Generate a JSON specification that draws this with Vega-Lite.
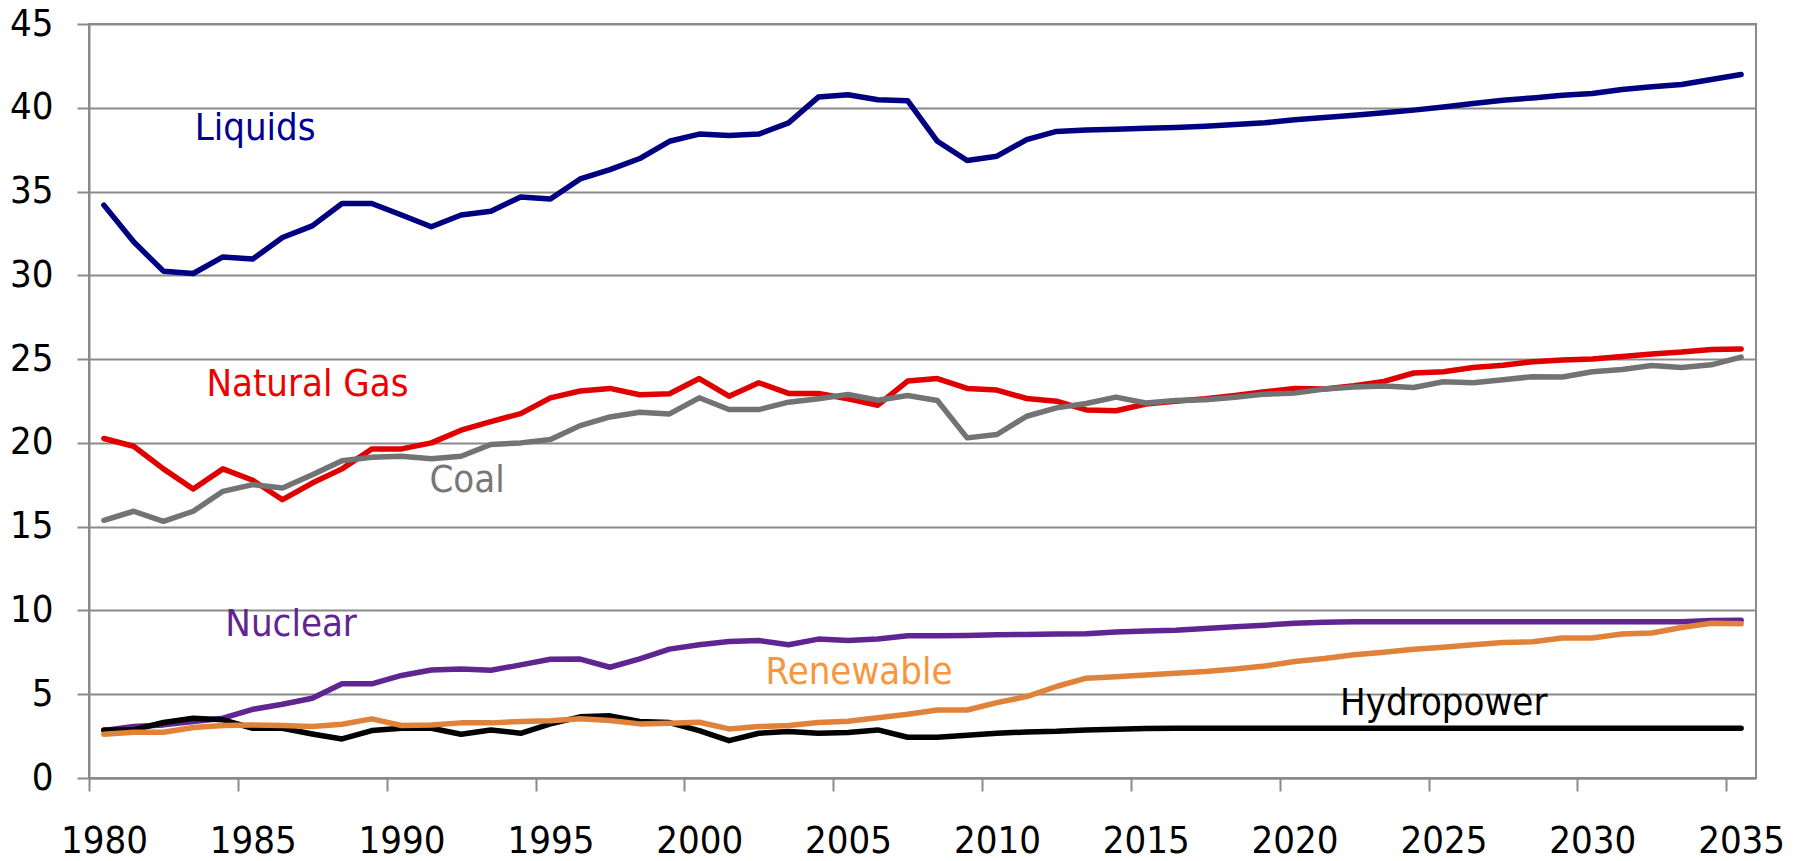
{
"$schema": "https://vega.github.io/schema/vega-lite/v6.json",
"width": 1667, "height": 754,
"autosize": {"type": "none"},
"padding": {"left": 89, "top": 24, "right": 41, "bottom": 83},
"background": "white",
"view": {"stroke": "#8a8a8a", "strokeWidth": 2},
"config": {"font": "Liberation Sans Narrow, Arial Narrow, DejaVu Sans Condensed, sans-serif"},
"datasets": {
"series": [
{"series":"Liquids","year":1980,"value":34.19},{"series":"Liquids","year":1981,"value":32.0},{"series":"Liquids","year":1982,"value":30.25},{"series":"Liquids","year":1983,"value":30.11},{"series":"Liquids","year":1984,"value":31.1},{"series":"Liquids","year":1985,"value":30.97},{"series":"Liquids","year":1986,"value":32.26},{"series":"Liquids","year":1987,"value":32.95},{"series":"Liquids","year":1988,"value":34.29},{"series":"Liquids","year":1989,"value":34.29},{"series":"Liquids","year":1990,"value":33.6},{"series":"Liquids","year":1991,"value":32.9},{"series":"Liquids","year":1992,"value":33.6},{"series":"Liquids","year":1993,"value":33.83},{"series":"Liquids","year":1994,"value":34.68},{"series":"Liquids","year":1995,"value":34.55},{"series":"Liquids","year":1996,"value":35.75},{"series":"Liquids","year":1997,"value":36.31},{"series":"Liquids","year":1998,"value":36.97},{"series":"Liquids","year":1999,"value":38.0},{"series":"Liquids","year":2000,"value":38.43},{"series":"Liquids","year":2001,"value":38.35},{"series":"Liquids","year":2002,"value":38.43},{"series":"Liquids","year":2003,"value":39.1},{"series":"Liquids","year":2004,"value":40.64},{"series":"Liquids","year":2005,"value":40.78},{"series":"Liquids","year":2006,"value":40.48},{"series":"Liquids","year":2007,"value":40.42},{"series":"Liquids","year":2008,"value":38.0},{"series":"Liquids","year":2009,"value":36.85},{"series":"Liquids","year":2010,"value":37.11},{"series":"Liquids","year":2011,"value":38.1},{"series":"Liquids","year":2012,"value":38.59},{"series":"Liquids","year":2013,"value":38.67},{"series":"Liquids","year":2014,"value":38.72},{"series":"Liquids","year":2015,"value":38.78},{"series":"Liquids","year":2016,"value":38.83},{"series":"Liquids","year":2017,"value":38.9},{"series":"Liquids","year":2018,"value":39.0},{"series":"Liquids","year":2019,"value":39.1},{"series":"Liquids","year":2020,"value":39.28},{"series":"Liquids","year":2021,"value":39.42},{"series":"Liquids","year":2022,"value":39.56},{"series":"Liquids","year":2023,"value":39.7},{"series":"Liquids","year":2024,"value":39.86},{"series":"Liquids","year":2025,"value":40.05},{"series":"Liquids","year":2026,"value":40.26},{"series":"Liquids","year":2027,"value":40.45},{"series":"Liquids","year":2028,"value":40.59},{"series":"Liquids","year":2029,"value":40.75},{"series":"Liquids","year":2030,"value":40.85},{"series":"Liquids","year":2031,"value":41.09},{"series":"Liquids","year":2032,"value":41.25},{"series":"Liquids","year":2033,"value":41.39},{"series":"Liquids","year":2034,"value":41.69},{"series":"Liquids","year":2035,"value":41.99},
{"series":"Natural Gas","year":1980,"value":20.26},{"series":"Natural Gas","year":1981,"value":19.8},{"series":"Natural Gas","year":1982,"value":18.45},{"series":"Natural Gas","year":1983,"value":17.25},{"series":"Natural Gas","year":1984,"value":18.45},{"series":"Natural Gas","year":1985,"value":17.77},{"series":"Natural Gas","year":1986,"value":16.61},{"series":"Natural Gas","year":1987,"value":17.6},{"series":"Natural Gas","year":1988,"value":18.45},{"series":"Natural Gas","year":1989,"value":19.64},{"series":"Natural Gas","year":1990,"value":19.64},{"series":"Natural Gas","year":1991,"value":20.0},{"series":"Natural Gas","year":1992,"value":20.76},{"series":"Natural Gas","year":1993,"value":21.27},{"series":"Natural Gas","year":1994,"value":21.75},{"series":"Natural Gas","year":1995,"value":22.69},{"series":"Natural Gas","year":1996,"value":23.1},{"series":"Natural Gas","year":1997,"value":23.25},{"series":"Natural Gas","year":1998,"value":22.87},{"series":"Natural Gas","year":1999,"value":22.93},{"series":"Natural Gas","year":2000,"value":23.84},{"series":"Natural Gas","year":2001,"value":22.79},{"series":"Natural Gas","year":2002,"value":23.59},{"series":"Natural Gas","year":2003,"value":22.95},{"series":"Natural Gas","year":2004,"value":22.95},{"series":"Natural Gas","year":2005,"value":22.63},{"series":"Natural Gas","year":2006,"value":22.25},{"series":"Natural Gas","year":2007,"value":23.69},{"series":"Natural Gas","year":2008,"value":23.84},{"series":"Natural Gas","year":2009,"value":23.25},{"series":"Natural Gas","year":2010,"value":23.15},{"series":"Natural Gas","year":2011,"value":22.65},{"series":"Natural Gas","year":2012,"value":22.49},{"series":"Natural Gas","year":2013,"value":21.97},{"series":"Natural Gas","year":2014,"value":21.92},{"series":"Natural Gas","year":2015,"value":22.32},{"series":"Natural Gas","year":2016,"value":22.48},{"series":"Natural Gas","year":2017,"value":22.63},{"series":"Natural Gas","year":2018,"value":22.83},{"series":"Natural Gas","year":2019,"value":23.05},{"series":"Natural Gas","year":2020,"value":23.25},{"series":"Natural Gas","year":2021,"value":23.21},{"series":"Natural Gas","year":2022,"value":23.41},{"series":"Natural Gas","year":2023,"value":23.67},{"series":"Natural Gas","year":2024,"value":24.17},{"series":"Natural Gas","year":2025,"value":24.24},{"series":"Natural Gas","year":2026,"value":24.5},{"series":"Natural Gas","year":2027,"value":24.64},{"series":"Natural Gas","year":2028,"value":24.84},{"series":"Natural Gas","year":2029,"value":24.94},{"series":"Natural Gas","year":2030,"value":25.0},{"series":"Natural Gas","year":2031,"value":25.16},{"series":"Natural Gas","year":2032,"value":25.3},{"series":"Natural Gas","year":2033,"value":25.42},{"series":"Natural Gas","year":2034,"value":25.58},{"series":"Natural Gas","year":2035,"value":25.6},
{"series":"Coal","year":1980,"value":15.38},{"series":"Coal","year":1981,"value":15.92},{"series":"Coal","year":1982,"value":15.32},{"series":"Coal","year":1983,"value":15.92},{"series":"Coal","year":1984,"value":17.11},{"series":"Coal","year":1985,"value":17.51},{"series":"Coal","year":1986,"value":17.31},{"series":"Coal","year":1987,"value":18.1},{"series":"Coal","year":1988,"value":18.94},{"series":"Coal","year":1989,"value":19.14},{"series":"Coal","year":1990,"value":19.2},{"series":"Coal","year":1991,"value":19.06},{"series":"Coal","year":1992,"value":19.2},{"series":"Coal","year":1993,"value":19.9},{"series":"Coal","year":1994,"value":20.0},{"series":"Coal","year":1995,"value":20.2},{"series":"Coal","year":1996,"value":21.03},{"series":"Coal","year":1997,"value":21.55},{"series":"Coal","year":1998,"value":21.83},{"series":"Coal","year":1999,"value":21.73},{"series":"Coal","year":2000,"value":22.69},{"series":"Coal","year":2001,"value":21.99},{"series":"Coal","year":2002,"value":21.99},{"series":"Coal","year":2003,"value":22.43},{"series":"Coal","year":2004,"value":22.63},{"series":"Coal","year":2005,"value":22.89},{"series":"Coal","year":2006,"value":22.55},{"series":"Coal","year":2007,"value":22.83},{"series":"Coal","year":2008,"value":22.53},{"series":"Coal","year":2009,"value":20.3},{"series":"Coal","year":2010,"value":20.5},{"series":"Coal","year":2011,"value":21.59},{"series":"Coal","year":2012,"value":22.09},{"series":"Coal","year":2013,"value":22.35},{"series":"Coal","year":2014,"value":22.73},{"series":"Coal","year":2015,"value":22.38},{"series":"Coal","year":2016,"value":22.53},{"series":"Coal","year":2017,"value":22.57},{"series":"Coal","year":2018,"value":22.73},{"series":"Coal","year":2019,"value":22.91},{"series":"Coal","year":2020,"value":22.97},{"series":"Coal","year":2021,"value":23.21},{"series":"Coal","year":2022,"value":23.33},{"series":"Coal","year":2023,"value":23.39},{"series":"Coal","year":2024,"value":23.31},{"series":"Coal","year":2025,"value":23.65},{"series":"Coal","year":2026,"value":23.59},{"series":"Coal","year":2027,"value":23.77},{"series":"Coal","year":2028,"value":23.95},{"series":"Coal","year":2029,"value":23.93},{"series":"Coal","year":2030,"value":24.25},{"series":"Coal","year":2031,"value":24.38},{"series":"Coal","year":2032,"value":24.62},{"series":"Coal","year":2033,"value":24.5},{"series":"Coal","year":2034,"value":24.66},{"series":"Coal","year":2035,"value":25.12},
{"series":"Nuclear","year":1980,"value":2.83},{"series":"Nuclear","year":1981,"value":3.07},{"series":"Nuclear","year":1982,"value":3.17},{"series":"Nuclear","year":1983,"value":3.37},{"series":"Nuclear","year":1984,"value":3.57},{"series":"Nuclear","year":1985,"value":4.1},{"series":"Nuclear","year":1986,"value":4.4},{"series":"Nuclear","year":1987,"value":4.76},{"series":"Nuclear","year":1988,"value":5.62},{"series":"Nuclear","year":1989,"value":5.62},{"series":"Nuclear","year":1990,"value":6.12},{"series":"Nuclear","year":1991,"value":6.45},{"series":"Nuclear","year":1992,"value":6.51},{"series":"Nuclear","year":1993,"value":6.43},{"series":"Nuclear","year":1994,"value":6.75},{"series":"Nuclear","year":1995,"value":7.09},{"series":"Nuclear","year":1996,"value":7.1},{"series":"Nuclear","year":1997,"value":6.61},{"series":"Nuclear","year":1998,"value":7.11},{"series":"Nuclear","year":1999,"value":7.69},{"series":"Nuclear","year":2000,"value":7.95},{"series":"Nuclear","year":2001,"value":8.15},{"series":"Nuclear","year":2002,"value":8.21},{"series":"Nuclear","year":2003,"value":7.95},{"series":"Nuclear","year":2004,"value":8.29},{"series":"Nuclear","year":2005,"value":8.21},{"series":"Nuclear","year":2006,"value":8.29},{"series":"Nuclear","year":2007,"value":8.49},{"series":"Nuclear","year":2008,"value":8.49},{"series":"Nuclear","year":2009,"value":8.51},{"series":"Nuclear","year":2010,"value":8.55},{"series":"Nuclear","year":2011,"value":8.57},{"series":"Nuclear","year":2012,"value":8.59},{"series":"Nuclear","year":2013,"value":8.61},{"series":"Nuclear","year":2014,"value":8.72},{"series":"Nuclear","year":2015,"value":8.77},{"series":"Nuclear","year":2016,"value":8.82},{"series":"Nuclear","year":2017,"value":8.92},{"series":"Nuclear","year":2018,"value":9.02},{"series":"Nuclear","year":2019,"value":9.12},{"series":"Nuclear","year":2020,"value":9.24},{"series":"Nuclear","year":2021,"value":9.3},{"series":"Nuclear","year":2022,"value":9.32},{"series":"Nuclear","year":2023,"value":9.33},{"series":"Nuclear","year":2024,"value":9.33},{"series":"Nuclear","year":2025,"value":9.33},{"series":"Nuclear","year":2026,"value":9.33},{"series":"Nuclear","year":2027,"value":9.33},{"series":"Nuclear","year":2028,"value":9.33},{"series":"Nuclear","year":2029,"value":9.33},{"series":"Nuclear","year":2030,"value":9.33},{"series":"Nuclear","year":2031,"value":9.33},{"series":"Nuclear","year":2032,"value":9.33},{"series":"Nuclear","year":2033,"value":9.33},{"series":"Nuclear","year":2034,"value":9.4},{"series":"Nuclear","year":2035,"value":9.42},
{"series":"Hydropower","year":1980,"value":2.87},{"series":"Hydropower","year":1981,"value":2.87},{"series":"Hydropower","year":1982,"value":3.31},{"series":"Hydropower","year":1983,"value":3.57},{"series":"Hydropower","year":1984,"value":3.47},{"series":"Hydropower","year":1985,"value":2.97},{"series":"Hydropower","year":1986,"value":2.97},{"series":"Hydropower","year":1987,"value":2.63},{"series":"Hydropower","year":1988,"value":2.33},{"series":"Hydropower","year":1989,"value":2.83},{"series":"Hydropower","year":1990,"value":2.97},{"series":"Hydropower","year":1991,"value":2.97},{"series":"Hydropower","year":1992,"value":2.61},{"series":"Hydropower","year":1993,"value":2.87},{"series":"Hydropower","year":1994,"value":2.67},{"series":"Hydropower","year":1995,"value":3.23},{"series":"Hydropower","year":1996,"value":3.65},{"series":"Hydropower","year":1997,"value":3.71},{"series":"Hydropower","year":1998,"value":3.37},{"series":"Hydropower","year":1999,"value":3.31},{"series":"Hydropower","year":2000,"value":2.83},{"series":"Hydropower","year":2001,"value":2.23},{"series":"Hydropower","year":2002,"value":2.67},{"series":"Hydropower","year":2003,"value":2.77},{"series":"Hydropower","year":2004,"value":2.67},{"series":"Hydropower","year":2005,"value":2.71},{"series":"Hydropower","year":2006,"value":2.87},{"series":"Hydropower","year":2007,"value":2.43},{"series":"Hydropower","year":2008,"value":2.43},{"series":"Hydropower","year":2009,"value":2.55},{"series":"Hydropower","year":2010,"value":2.67},{"series":"Hydropower","year":2011,"value":2.75},{"series":"Hydropower","year":2012,"value":2.79},{"series":"Hydropower","year":2013,"value":2.87},{"series":"Hydropower","year":2014,"value":2.91},{"series":"Hydropower","year":2015,"value":2.95},{"series":"Hydropower","year":2016,"value":2.97},{"series":"Hydropower","year":2017,"value":2.97},{"series":"Hydropower","year":2018,"value":2.97},{"series":"Hydropower","year":2019,"value":2.97},{"series":"Hydropower","year":2020,"value":2.97},{"series":"Hydropower","year":2021,"value":2.97},{"series":"Hydropower","year":2022,"value":2.97},{"series":"Hydropower","year":2023,"value":2.97},{"series":"Hydropower","year":2024,"value":2.97},{"series":"Hydropower","year":2025,"value":2.97},{"series":"Hydropower","year":2026,"value":2.97},{"series":"Hydropower","year":2027,"value":2.97},{"series":"Hydropower","year":2028,"value":2.97},{"series":"Hydropower","year":2029,"value":2.97},{"series":"Hydropower","year":2030,"value":2.97},{"series":"Hydropower","year":2031,"value":2.97},{"series":"Hydropower","year":2032,"value":2.97},{"series":"Hydropower","year":2033,"value":2.97},{"series":"Hydropower","year":2034,"value":2.97},{"series":"Hydropower","year":2035,"value":2.97},
{"series":"Renewable","year":1980,"value":2.61},{"series":"Renewable","year":1981,"value":2.73},{"series":"Renewable","year":1982,"value":2.73},{"series":"Renewable","year":1983,"value":3.01},{"series":"Renewable","year":1984,"value":3.13},{"series":"Renewable","year":1985,"value":3.17},{"series":"Renewable","year":1986,"value":3.13},{"series":"Renewable","year":1987,"value":3.07},{"series":"Renewable","year":1988,"value":3.21},{"series":"Renewable","year":1989,"value":3.53},{"series":"Renewable","year":1990,"value":3.13},{"series":"Renewable","year":1991,"value":3.17},{"series":"Renewable","year":1992,"value":3.29},{"series":"Renewable","year":1993,"value":3.29},{"series":"Renewable","year":1994,"value":3.37},{"series":"Renewable","year":1995,"value":3.41},{"series":"Renewable","year":1996,"value":3.53},{"series":"Renewable","year":1997,"value":3.43},{"series":"Renewable","year":1998,"value":3.23},{"series":"Renewable","year":1999,"value":3.27},{"series":"Renewable","year":2000,"value":3.33},{"series":"Renewable","year":2001,"value":2.93},{"series":"Renewable","year":2002,"value":3.07},{"series":"Renewable","year":2003,"value":3.13},{"series":"Renewable","year":2004,"value":3.31},{"series":"Renewable","year":2005,"value":3.39},{"series":"Renewable","year":2006,"value":3.59},{"series":"Renewable","year":2007,"value":3.8},{"series":"Renewable","year":2008,"value":4.06},{"series":"Renewable","year":2009,"value":4.06},{"series":"Renewable","year":2010,"value":4.5},{"series":"Renewable","year":2011,"value":4.86},{"series":"Renewable","year":2012,"value":5.46},{"series":"Renewable","year":2013,"value":5.96},{"series":"Renewable","year":2014,"value":6.05},{"series":"Renewable","year":2015,"value":6.15},{"series":"Renewable","year":2016,"value":6.25},{"series":"Renewable","year":2017,"value":6.35},{"series":"Renewable","year":2018,"value":6.5},{"series":"Renewable","year":2019,"value":6.68},{"series":"Renewable","year":2020,"value":6.95},{"series":"Renewable","year":2021,"value":7.13},{"series":"Renewable","year":2022,"value":7.35},{"series":"Renewable","year":2023,"value":7.51},{"series":"Renewable","year":2024,"value":7.69},{"series":"Renewable","year":2025,"value":7.81},{"series":"Renewable","year":2026,"value":7.95},{"series":"Renewable","year":2027,"value":8.09},{"series":"Renewable","year":2028,"value":8.13},{"series":"Renewable","year":2029,"value":8.35},{"series":"Renewable","year":2030,"value":8.35},{"series":"Renewable","year":2031,"value":8.59},{"series":"Renewable","year":2032,"value":8.65},{"series":"Renewable","year":2033,"value":8.98},{"series":"Renewable","year":2034,"value":9.24},{"series":"Renewable","year":2035,"value":9.2}
],
"labels": [
{"label":"Liquids","year":1985.08,"value":38.07},
{"label":"Natural Gas","year":1986.84,"value":22.79},
{"label":"Coal","year":1992.2,"value":17.06},
{"label":"Nuclear","year":1986.29,"value":8.47},
{"label":"Renewable","year":2005.37,"value":5.61},
{"label":"Hydropower","year":2025.01,"value":3.76}
]
},
"layer": [
{
"data": {"name": "series"},
"mark": {"type": "line", "strokeWidth": 5.5, "strokeCap": "round", "strokeJoin": "round"},
"encoding": {
"x": {"field": "year", "type": "quantitative",
"scale": {"domain": [1979.5, 2035.5], "nice": false, "zero": false},
"axis": {"values": [1980,1985,1990,1995,2000,2005,2010,2015,2020,2025,2030,2035], "format": "d", "title": null, "grid": false,
"tickOffset": -14.885, "labelOffset": 14.885, "tickSize": 13, "tickWidth": 2, "tickColor": "#8a8a8a",
"domainColor": "#8a8a8a", "domainWidth": 2, "labelFontSize": 38, "labelColor": "#000000", "labelPadding": 31,
"labelFlush": false, "labelOverlap": false, "labelBound": false}},
"y": {"field": "value", "type": "quantitative",
"scale": {"domain": [0, 45], "nice": false},
"axis": {"values": [0,5,10,15,20,25,30,35,40,45], "title": null, "grid": true, "gridColor": "#8a8a8a", "gridWidth": 2,
"tickSize": 12, "tickWidth": 2, "tickColor": "#8a8a8a", "domainColor": "#8a8a8a", "domainWidth": 2,
"labelFontSize": 38, "labelColor": "#000000", "labelPadding": 24, "labelOverlap": false, "labelBound": false, "labelFlush": false}},
"color": {"field": "series", "type": "nominal",
"scale": {"domain": ["Liquids","Natural Gas","Coal","Nuclear","Hydropower","Renewable"],
"range": ["#000080","#E00000","#737373","#5F2590","#000000","#E0823A"]}, "legend": null}
}
},
{
"data": {"name": "labels"},
"mark": {"type": "text", "fontSize": 38, "align": "center", "baseline": "alphabetic"},
"encoding": {
"x": {"field": "year", "type": "quantitative"},
"y": {"field": "value", "type": "quantitative"},
"text": {"field": "label"},
"color": {"field": "label", "type": "nominal",
"scale": {"domain": ["Liquids","Natural Gas","Coal","Nuclear","Renewable","Hydropower"],
"range": ["#000090","#EE0000","#777777","#5F2590","#F7963C","#000000"]}, "legend": null}
}
}
],
"resolve": {"scale": {"color": "independent"}}
}
